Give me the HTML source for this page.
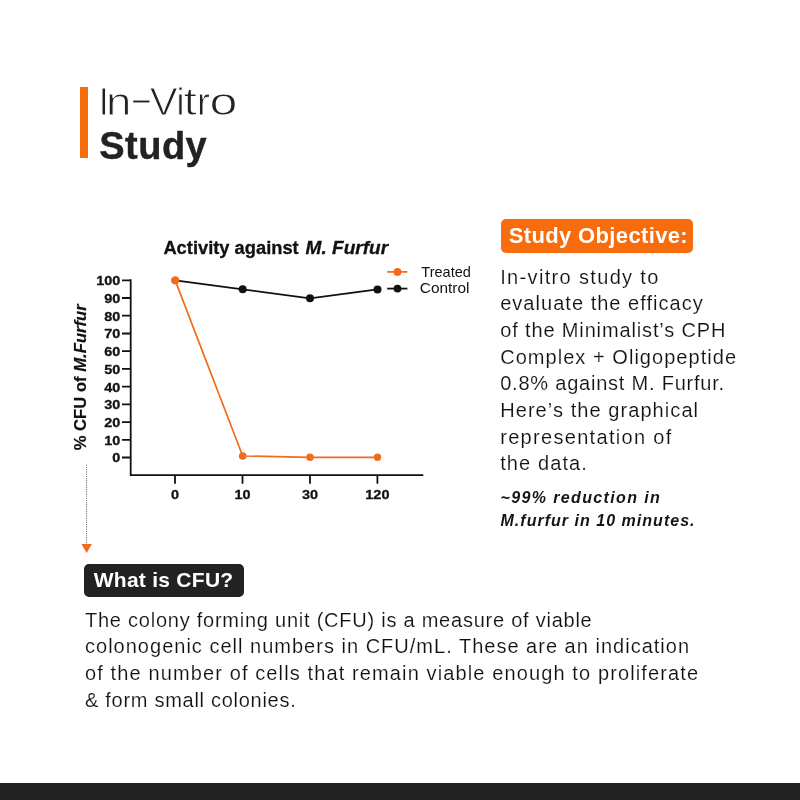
<!DOCTYPE html>
<html lang="en">
<head>
<meta charset="utf-8">
<title>In-Vitro Study</title>
<style>
  html, body { margin: 0; padding: 0; }
  body {
    width: 800px; height: 800px; position: relative; overflow: hidden;
    background: #ffffff; color: #222222;
    font-family: "Liberation Sans", sans-serif;
  }
  .abs { position: absolute; white-space: nowrap; }
  .bar { left: 80px; top: 87px; width: 8px; height: 71px; background: #f76c0c; }
  .h1 { left: 98.6px; top: 79.7px; font-size: 38px; line-height: 44px; letter-spacing: 0; color: #222; -webkit-text-stroke: 0.9px #fff; }
  .h1 .g { display: inline-block; transform: scaleX(var(--k)); margin: 0 var(--r) 0 var(--l); }
  .h2 { left: 99.2px; top: 123.6px; font-size: 38px; line-height: 44px; font-weight: bold; letter-spacing: 0.5px; color: #222; -webkit-text-stroke: 0.4px #222; }

  .tag { color: #fff; font-weight: bold; border-radius: 5px; font-size: 21px; }
  .tag-o { left: 500.5px; top: 219px; width: 192.5px; height: 33.8px; line-height: 33.2px; background: #f76c0c; font-size: 22px; }
  .tag-o span { margin-left: 8.3px; letter-spacing: 0.35px; }
  .tag-d { left: 84px; top: 564px; width: 159.8px; height: 33.4px; line-height: 31.6px; background: #222; }
  .tag-d span { margin-left: 9.7px; letter-spacing: 0.27px; }

  .para { font-size: 20px; line-height: 26.67px; color: #111; -webkit-text-stroke: 0.15px #fff; }
  .p1 { left: 500.2px; top: 263.6px; }
  .note { left: 500.5px; top: 487.2px; font-size: 16px; line-height: 22.5px; font-weight: bold; font-style: italic; color: #151515; }
  .p2 { left: 85px; top: 606.8px; font-size: 20px; line-height: 26.67px; }
  #a1{letter-spacing:1.34px} #a2{letter-spacing:1.03px} #a3{letter-spacing:0.86px} #a4{letter-spacing:1.04px}
  #a5{letter-spacing:0.78px} #a6{letter-spacing:1.07px} #a7{letter-spacing:1.31px} #a8{letter-spacing:1.1px}
  #n1{letter-spacing:1.37px} #n2{letter-spacing:1.02px}
  #b1{letter-spacing:0.76px} #b2{letter-spacing:1.01px} #b3{letter-spacing:1.12px} #b4{letter-spacing:0.72px}
  .line { display: block; }

  .footer { left: 0; top: 783.4px; width: 800px; height: 17px; background: #222; }
  svg text { font-family: "Liberation Sans", sans-serif; fill: #111; }
</style>
</head>
<body>
  <div class="abs bar"></div>
  <div class="abs h1" id="h1" aria-label="In-Vitro"><span class="g" style="--k:1;--l:0px;--r:0px">I</span><span class="g" style="--k:1.2;--l:-0.7px;--r:1.2px">n</span><span class="g" style="--k:1.95;--l:4.1px;--r:2.6px;position:relative;top:-2.8px">-</span><span class="g" style="--k:1.1;--l:1.1px;--r:-0.4px">V</span><span class="g" style="--k:1;--l:0px;--r:0.1px">i</span><span class="g" style="--k:1.27;--l:0.3px;--r:1.4px">t</span><span class="g" style="--k:1.05;--l:0.2px;--r:-0.4px">r</span><span class="g" style="--k:1.32;--l:3.6px;--r:2.75px">o</span></div>
  <div class="abs h2" id="h2">Study</div>

  <svg class="abs" style="left:0;top:200px" width="490" height="370" viewBox="0 200 490 370">
    <!-- title -->
    <g font-size="18" font-weight="bold" stroke="#111" stroke-width="0.3"><text id="ctitle" x="163.4" y="253.6" textLength="135.3" lengthAdjust="spacingAndGlyphs">Activity against</text><text id="ctitle2" x="305.6" y="253.6" font-style="italic" textLength="82.5" lengthAdjust="spacingAndGlyphs">M. Furfur</text></g>
    <!-- y label -->
    <text id="ylabel" transform="translate(86.2,450.3) rotate(-90)" font-size="17" font-weight="bold" stroke="#111" stroke-width="0.2" textLength="146" lengthAdjust="spacingAndGlyphs">% CFU of <tspan font-style="italic">M.Furfur</tspan></text>
    <!-- axes -->
    <g stroke="#111" stroke-width="1.8" fill="none">
      <path d="M130.7 279.3V475.2H423.3"/>
      <path d="M122 280.3H130.7 M122 298.0H130.7 M122 315.7H130.7 M122 333.5H130.7 M122 351.2H130.7 M122 368.9H130.7 M122 386.6H130.7 M122 404.3H130.7 M122 422.1H130.7 M122 439.8H130.7 M122 457.5H130.7"/>
      <path d="M175 475V483.7 M242.5 475V483.7 M310 475V483.7 M377.4 475V483.7"/>
    </g>
    <g font-size="13.5" font-weight="bold" text-anchor="end" stroke="#111" stroke-width="0.3">
      <text id="t100" x="120.4" y="285.2" textLength="24.2" lengthAdjust="spacingAndGlyphs">100</text>
      <text id="t90" x="120.4" y="302.9" textLength="16.1" lengthAdjust="spacingAndGlyphs">90</text>
      <text id="t80" x="120.4" y="320.6" textLength="16.1" lengthAdjust="spacingAndGlyphs">80</text>
      <text id="t70" x="120.4" y="338.3" textLength="16.1" lengthAdjust="spacingAndGlyphs">70</text>
      <text id="t60" x="120.4" y="356.0" textLength="16.1" lengthAdjust="spacingAndGlyphs">60</text>
      <text id="t50" x="120.4" y="373.8" textLength="16.1" lengthAdjust="spacingAndGlyphs">50</text>
      <text id="t40" x="120.4" y="391.5" textLength="16.1" lengthAdjust="spacingAndGlyphs">40</text>
      <text id="t30" x="120.4" y="409.2" textLength="16.1" lengthAdjust="spacingAndGlyphs">30</text>
      <text id="t20" x="120.4" y="426.9" textLength="16.1" lengthAdjust="spacingAndGlyphs">20</text>
      <text id="t10" x="120.4" y="444.6" textLength="16.1" lengthAdjust="spacingAndGlyphs">10</text>
      <text id="t0" x="120.4" y="462.4" textLength="8.05" lengthAdjust="spacingAndGlyphs">0</text>
    </g>
    <g font-size="13.5" font-weight="bold" text-anchor="middle" stroke="#111" stroke-width="0.3">
      <text id="x0" x="175" y="498.9" textLength="8.05" lengthAdjust="spacingAndGlyphs">0</text>
      <text id="x10" x="242.5" y="498.9" textLength="16.1" lengthAdjust="spacingAndGlyphs">10</text>
      <text id="x30" x="310" y="498.9" textLength="16.1" lengthAdjust="spacingAndGlyphs">30</text>
      <text id="x120" x="377.4" y="498.9" textLength="24.2" lengthAdjust="spacingAndGlyphs">120</text>
    </g>
    <!-- control -->
    <polyline points="175.2,280.4 242.7,289.3 310,298.3 377.5,289.4" fill="none" stroke="#111" stroke-width="1.8"/>
    <g fill="#111"><circle cx="242.7" cy="289.3" r="4"/><circle cx="310" cy="298.3" r="4"/><circle cx="377.5" cy="289.4" r="4"/></g>
    <!-- treated -->
    <polyline points="175.2,280.4 242.7,456 310,457.3 377.5,457.3" fill="none" stroke="#f26a1b" stroke-width="1.7"/>
    <g fill="#f26a1b"><circle cx="175.2" cy="280.4" r="4.2"/><circle cx="242.7" cy="456" r="3.8"/><circle cx="310" cy="457.3" r="3.7"/><circle cx="377.5" cy="457.3" r="3.7"/></g>
    <!-- legend -->
    <path d="M387.2 271.9H407.4" stroke="#f26a1b" stroke-width="1.7"/>
    <circle cx="397.5" cy="271.9" r="3.9" fill="#f26a1b"/>
    <path d="M387.2 288.6H407.4" stroke="#111" stroke-width="1.8"/>
    <circle cx="397.5" cy="288.6" r="3.9" fill="#111"/>
    <text id="lg1" x="421.3" y="277" font-size="15" textLength="49.6" lengthAdjust="spacingAndGlyphs">Treated</text>
    <text id="lg2" x="419.8" y="293.1" font-size="15" textLength="49.6" lengthAdjust="spacingAndGlyphs">Control</text>
    <!-- dotted arrow -->
    <path d="M86.6 464.8V544" stroke="#555" stroke-width="0.9" stroke-dasharray="1.1 1.1" fill="none"/>
    <path d="M81.4 544H91.9L86.65 553Z" fill="#f26a1b"/>
  </svg>

  <div class="abs tag tag-o" id="tago"><span id="tagot">Study Objective:</span></div>
  <div class="abs para p1" id="p1">
    <span class="line"><span id="a1">In-vitro study to</span></span>
    <span class="line"><span id="a2">evaluate the efficacy</span></span>
    <span class="line"><span id="a3">of the Minimalist’s CPH</span></span>
    <span class="line"><span id="a4">Complex + Oligopeptide</span></span>
    <span class="line"><span id="a5">0.8% against M. Furfur.</span></span>
    <span class="line"><span id="a6">Here’s the graphical</span></span>
    <span class="line"><span id="a7">representation of</span></span>
    <span class="line"><span id="a8">the data.</span></span>
  </div>
  <div class="abs note" id="note">
    <span class="line"><span id="n1">~99% reduction in</span></span>
    <span class="line"><span id="n2">M.furfur in 10 minutes.</span></span>
  </div>

  <div class="abs tag tag-d" id="tagd"><span id="tagdt">What is CFU?</span></div>
  <div class="abs para p2" id="p2">
    <span class="line"><span id="b1">The colony forming unit (CFU) is a measure of viable</span></span>
    <span class="line"><span id="b2">colonogenic cell numbers in CFU/mL. These are an indication</span></span>
    <span class="line"><span id="b3">of the number of cells that remain viable enough to proliferate</span></span>
    <span class="line"><span id="b4">&amp; form small colonies.</span></span>
  </div>

  <div class="abs footer"></div>
</body>
</html>
